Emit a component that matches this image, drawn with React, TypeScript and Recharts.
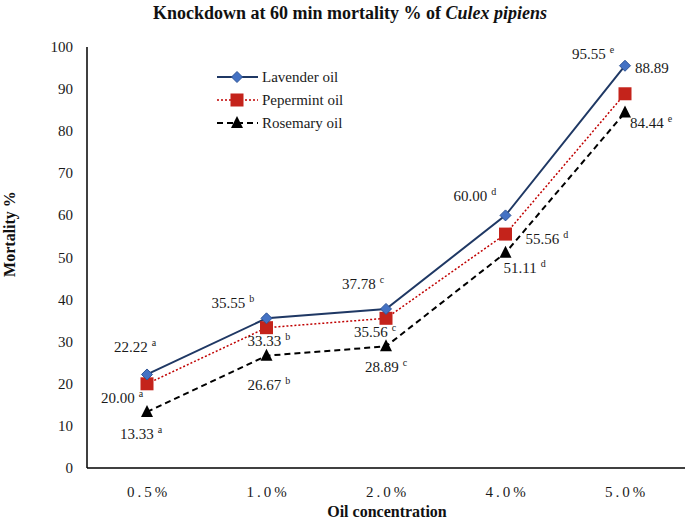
import React from 'react';
import { LineChart, Line, XAxis, YAxis, LabelList } from 'recharts';

const concentrations = ['0.5%', '1.0%', '2.0%', '4.0%', '5.0%'];
const lavender = [22.22, 35.55, 37.78, 60.0, 95.55];
const peppermint = [20.0, 33.33, 35.56, 55.56, 88.89];
const rosemary = [13.33, 26.67, 28.89, 51.11, 84.44];

// significance letters shown next to each value
const lavenderLetters = ['a', 'b', 'c', 'd', 'e'];
const peppermintLetters = ['a', 'b', 'c', 'd', ''];
const rosemaryLetters = ['a', 'b', 'c', 'd', 'e'];

const yTicks = [0, 10, 20, 30, 40, 50, 60, 70, 80, 90, 100];

// label placement relative to the point (text start, baseline)
const lavenderOffsets = [[-33, -22], [-55, -10], [-44, -20], [-52, -14], [-53, -7]];
const peppermintOffsets = [[-46, 19], [-19, 18], [-32, 19], [20, 10], [10, -21]];
const rosemaryOffsets = [[-27, 27], [-19, 34], [-21, 26], [-2, 20], [5, 15]];

const data = concentrations.map((c, i) => ({
  conc: c,
  lavender: lavender[i],
  peppermint: peppermint[i],
  rosemary: rosemary[i],
}));

const FONT = '"Liberation Serif", "Times New Roman", serif';
const SVG_FONT = 'Liberation Serif';

const Diamond = (props: any) => {
  const { cx, cy, index } = props;
  if (cx == null || cy == null) return <g key={`d${index}`} />;
  return (
    <polygon
      key={`d${index}`}
      points={`${cx},${cy - 5.5} ${cx + 5.5},${cy} ${cx},${cy + 5.5} ${cx - 5.5},${cy}`}
      fill="#4472c4"
      stroke="#2f5597"
      strokeWidth={1}
    />
  );
};

const Square = (props: any) => {
  const { cx, cy, index } = props;
  if (cx == null || cy == null) return <g key={`s${index}`} />;
  return <rect key={`s${index}`} x={cx - 6.5} y={cy - 6.5} width={13} height={13} fill="#c4231b" />;
};

const Triangle = (props: any) => {
  const { cx, cy, index } = props;
  if (cx == null || cy == null) return <g key={`t${index}`} />;
  return (
    <polygon
      key={`t${index}`}
      points={`${cx},${cy - 7} ${cx + 6},${cy + 5} ${cx - 6},${cy + 5}`}
      fill="#000"
    />
  );
};

const makeLabel = (letters: string[], offsets: number[][]) => (props: any) => {
  const { x, y, index, value } = props;
  if (x == null || y == null || index == null) return null;
  const [dx, dy] = offsets[index];
  return (
    <text x={x + dx} y={y + dy} fontFamily={SVG_FONT} fontSize={15} fill="#1a1a1a">
      {Number(value).toFixed(2)}
      {letters[index] ? (
        <tspan fontSize={10} dx={4} dy={-6}>
          {letters[index]}
        </tspan>
      ) : null}
    </text>
  );
};

const XTick = (props: any) => {
  const { x, y, payload } = props;
  return (
    <text x={x + 1.5} y={y + 27} textAnchor="middle" fontFamily={SVG_FONT} letterSpacing={3} fontSize={15} fill="#1a1a1a">
      {payload.value}
    </text>
  );
};

const YTick = (props: any) => {
  const { x, y, payload } = props;
  return (
    <text x={x - 12} y={y + 5} textAnchor="end" fontFamily={SVG_FONT} fontSize={15} fill="#1a1a1a">
      {payload.value}
    </text>
  );
};

const legendItems = [
  { name: 'Lavender oil', color: '#1f3864', dash: undefined, width: 2, marker: 'diamond' },
  { name: 'Pepermint oil', color: '#c00000', dash: '2 2', width: 1.5, marker: 'square' },
  { name: 'Rosemary oil', color: '#000', dash: '6 4', width: 2, marker: 'triangle' },
];

const LegendBox = () => (
  <svg width={140} height={70} style={{ position: 'absolute', left: 210, top: 67 }}>
    {legendItems.map((it, i) => {
      const y = 10 + i * 23;
      const cx = 27;
      return (
        <g key={it.name}>
          <line x1={7} x2={48} y1={y} y2={y} stroke={it.color} strokeWidth={it.width} strokeDasharray={it.dash} />
          {it.marker === 'diamond' && <Diamond cx={cx} cy={y} index={i} />}
          {it.marker === 'square' && <Square cx={cx} cy={y} index={i} />}
          {it.marker === 'triangle' && <Triangle cx={cx} cy={y} index={i} />}
          <text x={52} y={y + 5} fontFamily={SVG_FONT} fontSize={15} fill="#1a1a1a">
            {it.name}
          </text>
        </g>
      );
    })}
  </svg>
);

export default function App() {
  return (
    <div style={{ position: 'absolute', left: 0, top: 0, width: 686, height: 522, background: '#fff', fontFamily: FONT }}>
      <div
        style={{
          position: 'absolute',
          top: 3,
          left: 0,
          width: 700,
          textAlign: 'center',
          fontWeight: 'bold',
          fontSize: 18,
          color: '#111',
        }}
      >
        Knockdown at 60 min mortality % of <i>Culex pipiens</i>
      </div>
      <div
        style={{
          position: 'absolute',
          left: 10,
          top: 234,
          transform: 'translate(-50%, -50%) rotate(-90deg)',
          whiteSpace: 'nowrap',
          fontWeight: 'bold',
          fontSize: 16,
          color: '#111',
        }}
      >
        Mortality %
      </div>
      <div
        style={{
          position: 'absolute',
          left: 387,
          top: 512,
          transform: 'translate(-50%, -50%)',
          whiteSpace: 'nowrap',
          fontWeight: 'bold',
          fontSize: 16,
          color: '#111',
        }}
      >
        Oil concentration
      </div>
      <LineChart width={686} height={522} data={data} margin={{ top: 47, right: 1, bottom: 0, left: 0 }}>
        <XAxis
          dataKey="conc"
          height={54}
          padding={{ left: 60, right: 60 }}
          tickLine={false}
          tickSize={0}
          axisLine={{ stroke: '#000', strokeWidth: 1.5 }}
          tick={<XTick />}
        />
        <YAxis
          width={87}
          domain={[0, 100]}
          ticks={yTicks}
          interval={0}
          tickLine={false}
          tickSize={0}
          axisLine={{ stroke: '#000', strokeWidth: 1.5 }}
          tick={<YTick />}
        />
        <Line
          type="linear"
          dataKey="rosemary"
          name="Rosemary oil"
          stroke="#000"
          strokeWidth={2}
          strokeDasharray="6 4"
          dot={Triangle}
          activeDot={false}
          isAnimationActive={false}
        >
          <LabelList dataKey="rosemary" content={makeLabel(rosemaryLetters, rosemaryOffsets)} />
        </Line>
        <Line
          type="linear"
          dataKey="peppermint"
          name="Pepermint oil"
          stroke="#c00000"
          strokeWidth={1.5}
          strokeDasharray="2 2"
          dot={Square}
          activeDot={false}
          isAnimationActive={false}
        >
          <LabelList dataKey="peppermint" content={makeLabel(peppermintLetters, peppermintOffsets)} />
        </Line>
        <Line
          type="linear"
          dataKey="lavender"
          name="Lavender oil"
          stroke="#1f3864"
          strokeWidth={2}
          dot={Diamond}
          activeDot={false}
          isAnimationActive={false}
        >
          <LabelList dataKey="lavender" content={makeLabel(lavenderLetters, lavenderOffsets)} />
        </Line>
      </LineChart>
      <LegendBox />
    </div>
  );
}
